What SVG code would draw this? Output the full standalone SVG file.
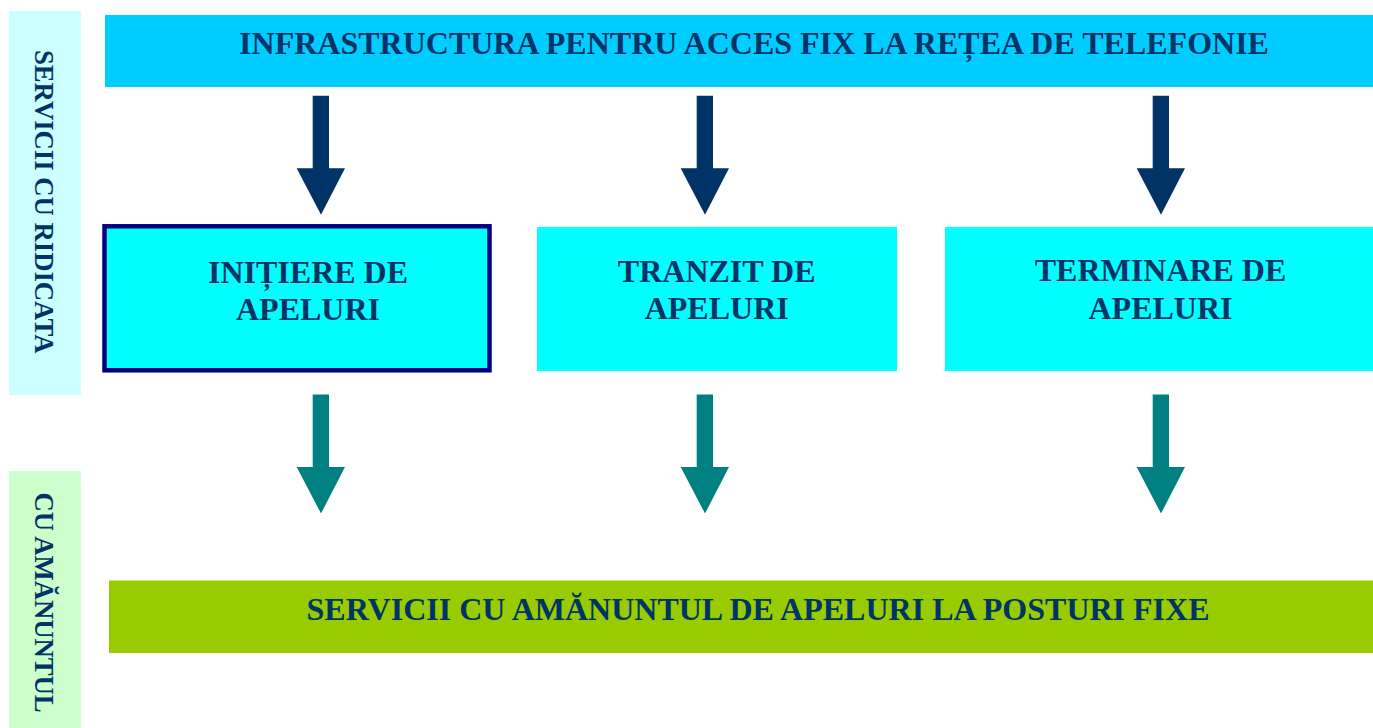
<svg xmlns="http://www.w3.org/2000/svg" width="1373" height="728" viewBox="0 0 1373 728">
<defs>
<style>
.t{font-family:"Liberation Serif","Times New Roman",serif;font-weight:bold;font-size:32px;fill:#003366;text-anchor:middle}
.v{font-family:"Liberation Serif","Times New Roman",serif;font-weight:bold;font-size:26.7px;fill:#003366;text-anchor:middle}
.box{fill:#00ffff}
.dn{fill:#003366}
.tl{fill:#008080}
</style>
<path id="arr" d="M-8.3,0 H8 V72.5 H24 L0,119 L-24.3,72.5 H-8.3 Z"/>
</defs>
<rect width="1373" height="728" fill="#ffffff"/>
<g id="side-ridicata">
<rect x="9" y="11" width="72" height="384" fill="#ccffff"/>
<text class="v" transform="translate(35,201.7) rotate(90)">SERVICII CU RIDICATA</text>
</g>
<g id="side-amanuntul">
<rect x="9" y="471" width="72" height="257" fill="#ccffcc"/>
<text class="v" transform="translate(35,602.5) rotate(90)">CU AMĂNUNTUL</text>
</g>
<g id="infrastructura">
<rect x="105" y="15" width="1268" height="72" fill="#00ccff"/>
<text class="t" x="754" y="54">INFRASTRUCTURA PENTRU ACCES FIX LA REȚEA DE TELEFONIE</text>
</g>
<g id="initiere">
<rect x="104.5" y="226.3" width="385" height="144" class="box" stroke="#000080" stroke-width="4.5"/>
<text class="t" x="308" y="283">INIȚIERE DE</text>
<text class="t" x="308" y="320">APELURI</text>
</g>
<g id="tranzit">
<rect x="537" y="227" width="360" height="144" class="box"/>
<text class="t" x="716.7" y="281.5">TRANZIT DE</text>
<text class="t" x="716.7" y="319">APELURI</text>
</g>
<g id="terminare">
<rect x="945" y="227" width="428" height="144" class="box"/>
<text class="t" x="1160.5" y="281">TERMINARE DE</text>
<text class="t" x="1160.5" y="318.5">APELURI</text>
</g>
<g id="amanuntul">
<rect x="109" y="580.5" width="1264" height="72.5" fill="#99cc00"/>
<text class="t" x="758" y="619.5">SERVICII CU AMĂNUNTUL DE APELURI LA POSTURI FIXE</text>
</g>
<g id="connectors">
<use href="#arr" class="dn" transform="translate(321,95.7)"/>
<use href="#arr" class="dn" transform="translate(705,95.7)"/>
<use href="#arr" class="dn" transform="translate(1161,95.7)"/>
<use href="#arr" class="tl" transform="translate(321,394.5)"/>
<use href="#arr" class="tl" transform="translate(705,394.5)"/>
<use href="#arr" class="tl" transform="translate(1161,394.5)"/>
</g>
</svg>
